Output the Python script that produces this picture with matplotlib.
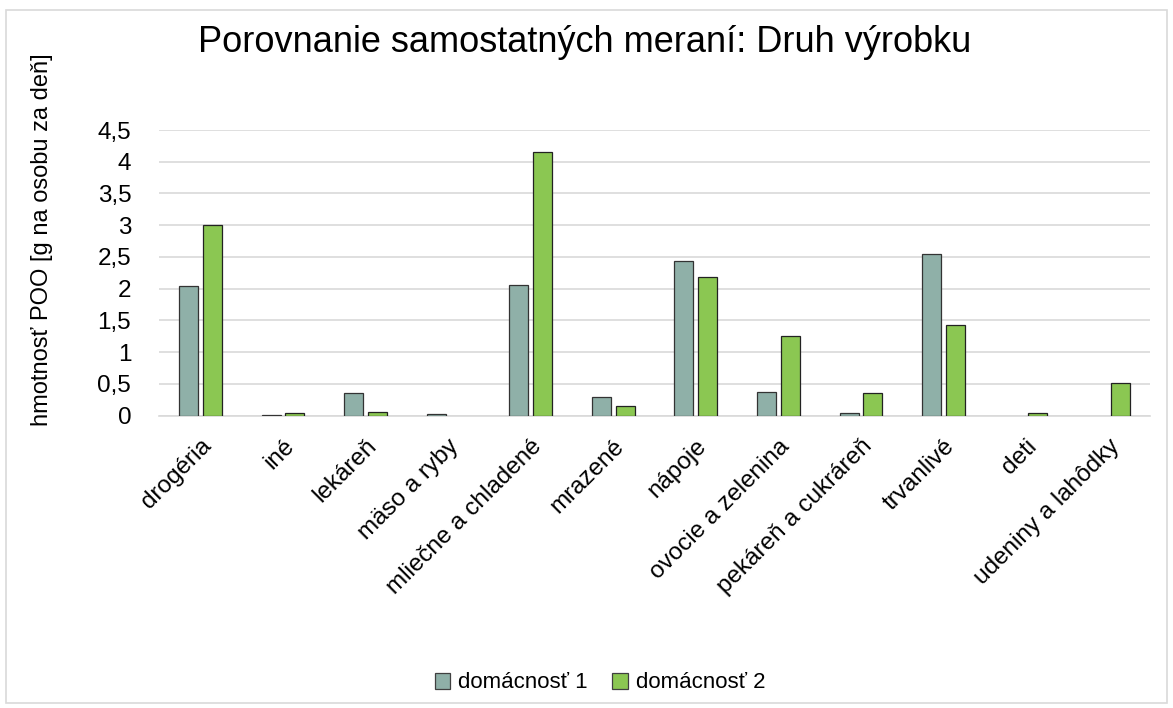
import matplotlib
matplotlib.use("Agg")
import matplotlib.pyplot as plt
import numpy as np
from matplotlib.patches import Rectangle

plt.rcParams['font.family'] = ['Liberation Sans', 'DejaVu Sans']

categories = ["drogéria", "iné", "lekáreň", "mäso a ryby", "mliečne a chladené",
              "mrazené", "nápoje", "ovocie a zelenina", "pekáreň a cukráreň",
              "trvanlivé", "deti", "udeniny a lahôdky"]
domacnost1 = [2.05, 0.01, 0.36, 0.03, 2.06, 0.29, 2.44, 0.38, 0.04, 2.55, 0.0, 0.0]
domacnost2 = [3.01, 0.04, 0.06, 0.0, 4.16, 0.16, 2.19, 1.25, 0.35, 1.43, 0.05, 0.51]
yticks = [0, 0.5, 1, 1.5, 2, 2.5, 3, 3.5, 4, 4.5]
yticklabels = ["0", "0,5", "1", "1,5", "2", "2,5", "3", "3,5", "4", "4,5"]

W, H = 1173, 708
fig = plt.figure(figsize=(W/100, H/100), dpi=100)
fig.patches.append(Rectangle((6/W, 1 - 703/H), (1167-6)/W, (703-10)/H, transform=fig.transFigure,
                             fill=False, edgecolor='#d9d9d9', linewidth=1.2))

ax = fig.add_axes([159/W, 1 - 415.7/H, (1150-159)/W, (415.7-130)/H])
x = np.arange(len(categories))
bw = 0.23
off = 0.143
c1 = '#8FB0A8'
c2 = '#8BC752'
lw1 = [0 if v == 0 else 0.9 for v in domacnost1]
lw2 = [0 if v == 0 else 0.9 for v in domacnost2]
ax.bar(x - off, domacnost1, bw, color=c1, edgecolor='#333333', linewidth=lw1, label='domácnosť 1', zorder=3)
ax.bar(x + off, domacnost2, bw, color=c2, edgecolor='#222222', linewidth=lw2, label='domácnosť 2', zorder=3)

ax.set_xlim(-0.5, len(categories) - 0.5)
ax.set_ylim(0, 4.5)
ax.set_yticks(yticks)
ax.set_yticklabels(yticklabels, fontsize=17.5)
ax.grid(axis='y', color='#d9d9d9', linewidth=1.2, zorder=0)
for s in ['top', 'right', 'left']:
    ax.spines[s].set_visible(False)
ax.spines['bottom'].set_color('#d9d9d9')
ax.spines['bottom'].set_linewidth(1.2)
ax.tick_params(axis='both', length=0)
ax.tick_params(axis='y', pad=20)
ax.set_xticks(x)
ax.set_xticklabels(categories, rotation=45, ha='right', rotation_mode='anchor', fontsize=17.5)
ax.tick_params(axis='x', pad=14)

fig.text(585/W, 1 - 43/H, "Porovnanie samostatných meraní: Druh výrobku", ha='center', va='center', fontsize=26)
fig.text(42/W, 1 - 240/H, "hmotnosť POO [g na osobu za deň]", rotation=90, ha='center', va='center', fontsize=17)

leg = fig.legend(loc='center', bbox_to_anchor=(600/W, 1 - 683/H), ncol=2, frameon=False, fontsize=16,
                 handlelength=0.7, handleheight=0.7, handletextpad=0.35, columnspacing=1.1)
for h in leg.legend_handles:
    h.set_edgecolor('#404040')
    h.set_linewidth(0.9)

fig.savefig("out.png", dpi=100)
